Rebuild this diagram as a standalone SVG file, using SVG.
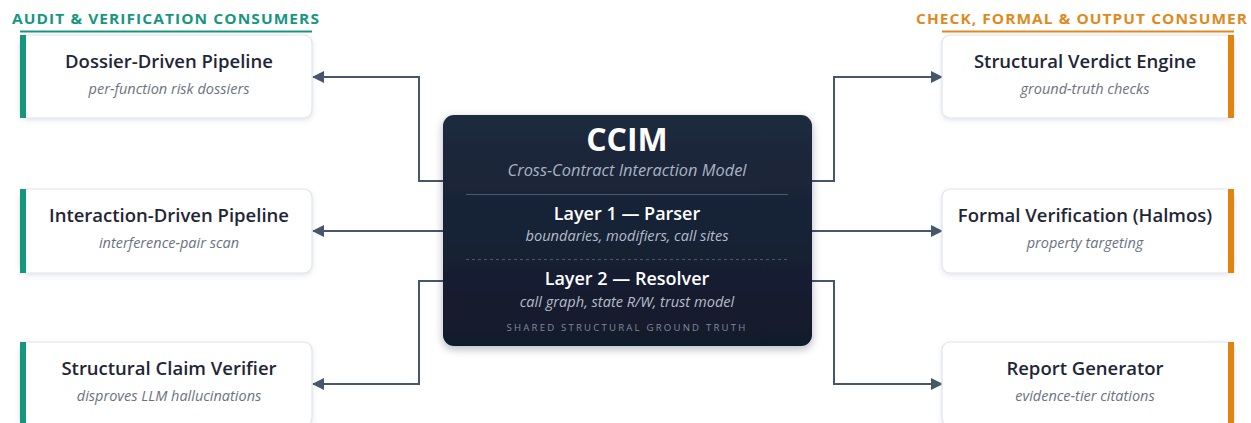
<svg xmlns="http://www.w3.org/2000/svg" width="1251" height="423" viewBox="0 0 1251 423">
<defs>
<linearGradient id="cg" x1="0" y1="0" x2="0" y2="1">
<stop offset="0" stop-color="#1e2a3e"/>
<stop offset="1" stop-color="#111a2b"/>
</linearGradient>
<filter id="sh" x="-10%" y="-10%" width="120%" height="130%">
<feDropShadow dx="0" dy="2" stdDeviation="2.5" flood-color="#64748b" flood-opacity="0.18"/>
</filter>
<filter id="sh2" x="-10%" y="-10%" width="120%" height="130%">
<feDropShadow dx="0" dy="3" stdDeviation="4" flood-color="#0f172a" flood-opacity="0.3"/>
</filter>
<marker id="ah" viewBox="0 0 12 12" refX="11" refY="6" markerWidth="12" markerHeight="12" markerUnits="userSpaceOnUse" orient="auto">
<path d="M0,0 L12,6 L0,12 z" fill="#46566b"/>
</marker>
<style>
.box{fill:#ffffff;stroke:#dfe4eb;stroke-width:1.2;filter:url(#sh)}
.tt{font-family:"Open Sans","Noto Sans",sans-serif;font-weight:600;font-size:18.5px;fill:#1f2636;text-anchor:middle}
.st{font-family:"Open Sans","Noto Sans",sans-serif;font-style:italic;font-size:14.5px;fill:#6b7280;text-anchor:middle}
.hd{font-family:"Open Sans","Noto Sans",sans-serif;font-weight:700;font-size:14.5px;letter-spacing:1px}
.con{fill:none;stroke:#46566b;stroke-width:2;marker-end:url(#ah)}
.lt{font-family:"Open Sans","Noto Sans",sans-serif;font-weight:600;font-size:18px;fill:#ffffff;text-anchor:middle}
.ls{font-family:"Open Sans","Noto Sans",sans-serif;font-style:italic;font-size:14.6px;fill:#b4bdcc;text-anchor:middle}
</style>
</defs>
<rect width="1251" height="423" fill="#ffffff"/>

<g id="header-left">
<text class="hd" x="12" y="23.5" fill="#17977f" textLength="308" lengthAdjust="spacingAndGlyphs">AUDIT &amp; VERIFICATION CONSUMERS</text>
<line x1="20" y1="31.5" x2="312" y2="31.5" stroke="#17977f" stroke-width="2"/>
</g>
<g id="header-right">
<text class="hd" x="916" y="23.5" fill="#e08a1e" textLength="332" lengthAdjust="spacingAndGlyphs">CHECK, FORMAL &amp; OUTPUT CONSUMER</text>
<line x1="942" y1="31.5" x2="1234" y2="31.5" stroke="#e08a1e" stroke-width="2"/>
</g>

<g id="connectors">
<path class="con" d="M443,181 H419 V77 H313"/>
<path class="con" d="M443,231 H313"/>
<path class="con" d="M443,281 H419 V384 H313"/>
<path class="con" d="M812,181 H834 V77 H942"/>
<path class="con" d="M812,231 H942"/>
<path class="con" d="M812,281 H834 V384 H942"/>
</g>

<g id="ccim">
<rect x="443" y="115" width="369" height="231" rx="11" fill="url(#cg)" filter="url(#sh2)"/>
<text x="627" y="151" font-family="'Open Sans','Noto Sans',sans-serif" font-weight="700" font-size="32" fill="#ffffff" text-anchor="middle">CCIM</text>
<text x="627" y="176" font-family="'Open Sans','Noto Sans',sans-serif" font-style="italic" font-size="16.4" fill="#a8b3c5" text-anchor="middle">Cross-Contract Interaction Model</text>
<line x1="466" y1="194.5" x2="788" y2="194.5" stroke="#4a5870" stroke-width="1"/>
<text class="lt" x="627" y="220">Layer 1 — Parser</text>
<text class="ls" x="627" y="241">boundaries, modifiers, call sites</text>
<line x1="466" y1="259.5" x2="788" y2="259.5" stroke="#4a5870" stroke-width="1" stroke-dasharray="3,3"/>
<text class="lt" x="627" y="285">Layer 2 — Resolver</text>
<text class="ls" x="627" y="307">call graph, state R/W, trust model</text>
<text x="627" y="331" font-family="'Open Sans','Noto Sans',sans-serif" font-size="9.6" letter-spacing="2.2" fill="#7f8aa0" text-anchor="middle">SHARED STRUCTURAL GROUND TRUTH</text>
</g>

<g id="dossier">
<rect class="box" x="20" y="35" width="292" height="83" rx="8"/>
<rect x="20" y="35" width="6" height="83" fill="#14967f"/>
<text class="tt" x="169" y="68">Dossier-Driven Pipeline</text>
<text class="st" x="169" y="94">per-function risk dossiers</text>
</g>
<g id="interaction">
<rect class="box" x="20" y="189" width="292" height="84" rx="8"/>
<rect x="20" y="189" width="6" height="84" fill="#14967f"/>
<text class="tt" x="169" y="222">Interaction-Driven Pipeline</text>
<text class="st" x="169" y="248">interference-pair scan</text>
</g>
<g id="claim">
<rect class="box" x="20" y="342" width="292" height="84" rx="8"/>
<rect x="20" y="342" width="6" height="84" fill="#14967f"/>
<text class="tt" x="169" y="375">Structural Claim Verifier</text>
<text class="st" x="169" y="401">disproves LLM hallucinations</text>
</g>

<g id="verdict">
<rect class="box" x="942" y="35" width="292" height="83" rx="8"/>
<rect x="1228" y="35" width="6" height="83" fill="#e0830f"/>
<text class="tt" x="1085" y="68">Structural Verdict Engine</text>
<text class="st" x="1085" y="94">ground-truth checks</text>
</g>
<g id="formal">
<rect class="box" x="942" y="189" width="292" height="84" rx="8"/>
<rect x="1228" y="189" width="6" height="84" fill="#e0830f"/>
<text class="tt" x="1085" y="222">Formal Verification (Halmos)</text>
<text class="st" x="1085" y="248">property targeting</text>
</g>
<g id="report">
<rect class="box" x="942" y="342" width="292" height="84" rx="8"/>
<rect x="1228" y="342" width="6" height="84" fill="#e0830f"/>
<text class="tt" x="1085" y="375">Report Generator</text>
<text class="st" x="1085" y="401">evidence-tier citations</text>
</g>
</svg>
